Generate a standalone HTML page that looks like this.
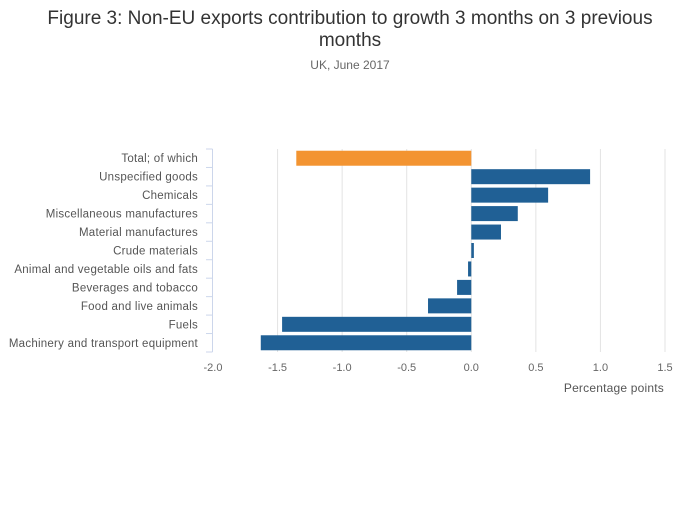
<!DOCTYPE html>
<html><head><meta charset="utf-8"><style>
body{margin:0;background:#fff;font-family:"Liberation Sans",sans-serif;}
svg text{font-family:"Liberation Sans",sans-serif;}
</style></head><body>
<svg id="chart" width="700" height="502">
<text x="350" y="24" text-anchor="middle" font-size="19" fill="#333">Figure 3: Non-EU exports contribution to growth 3 months on 3 previous</text>
<text x="350" y="46" text-anchor="middle" font-size="19" fill="#333">months</text>
<text x="350" y="69" text-anchor="middle" font-size="12" fill="#666">UK, June 2017</text>
<g id="grid"></g><g id="bars"></g><g id="yaxis"></g><g id="xaxis"></g>
<text x="664" y="392" text-anchor="end" font-size="12" fill="#555" letter-spacing="0.2">Percentage points</text>
</svg>
<script>
const categories=["Total; of which","Unspecified goods","Chemicals","Miscellaneous manufactures","Material manufactures","Crude materials","Animal and vegetable oils and fats","Beverages and tobacco","Food and live animals","Fuels","Machinery and transport equipment"];
const values=[-1.355,0.92,0.595,0.36,0.23,0.02,-0.025,-0.11,-0.335,-1.465,-1.63];
const xTicks=[-2,-1.5,-1,-0.5,0,0.5,1,1.5];
const xTickLabels=["-2.0","-1.5","-1.0","-0.5","0.0","0.5","1.0","1.5"];
const NS="http://www.w3.org/2000/svg";
const x0=213,x1=665,vmin=-2,vmax=1.5,yTop=149,yBottom=352;
const xs=v=>x0+(v-vmin)/(vmax-vmin)*(x1-x0);
const band=(yBottom-yTop)/categories.length;
function mk(t,a,p){const e=document.createElementNS(NS,t);for(const k in a)e.setAttribute(k,a[k]);p.appendChild(e);return e;}
const grid=document.getElementById('grid'),bars=document.getElementById('bars'),ya=document.getElementById('yaxis'),xa=document.getElementById('xaxis');
xTicks.forEach((t,i)=>{
 if(i>0){const l=mk('line',{x1:xs(t),x2:xs(t),y1:yTop,y2:yBottom,stroke:'#e3e3e3','stroke-width':1},grid);
 
 }
 const tx=mk('text',{x:xs(t),y:371,'text-anchor':'middle','font-size':11,fill:'#666'},xa);
 tx.textContent=xTickLabels[i];
 
 
});
const ax=mk('line',{x1:212.5,x2:212.5,y1:yTop,y2:yBottom,stroke:'#ccd6eb','stroke-width':1},ya);


for(let k=0;k<=categories.length;k++){const y=yTop+k*band;const t=mk('line',{x1:206,x2:212.5,y1:y,y2:y,stroke:'#ccd6eb'},ya);
 
 }
categories.forEach((c,i)=>{
 const yc=yTop+(i+0.5)*band, v=values[i];
 const r=mk('rect',{x:Math.min(xs(0),xs(v)),y:yc-7.5,width:Math.abs(xs(v)-xs(0)),height:15,fill:i===0?'#f39431':'#206095'},bars);
 
 
 const t=mk('text',{x:198,y:yc+4,'text-anchor':'end','font-size':11.5,'letter-spacing':0.25,fill:'#555'},ya);
 t.textContent=c;
 
 
});
</script>
</body></html>
